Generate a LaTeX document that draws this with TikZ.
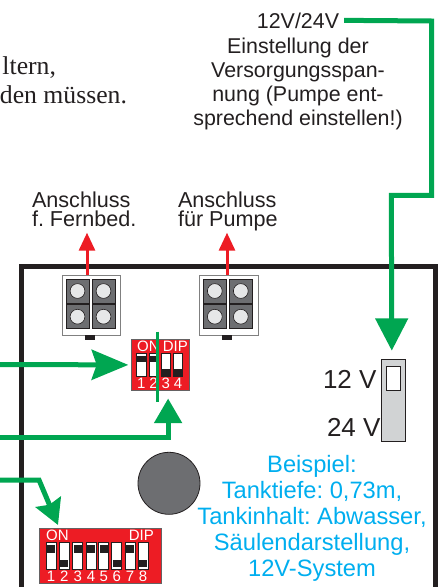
\documentclass[tikz,border=0pt]{standalone}
\usepackage{fontspec}
\setmainfont{Liberation Sans}
\newfontfamily\serifface{Liberation Serif}
\usetikzlibrary{arrows.meta,calc}
\frenchspacing
\definecolor{ink}{HTML}{231F20}
\definecolor{grn}{HTML}{00A651}
\definecolor{rd}{HTML}{ED1C24}
\definecolor{blu}{HTML}{00AEEF}
\definecolor{dgray}{HTML}{6D6E71}
\definecolor{lgray}{HTML}{D1D3D4}
\definecolor{cgray}{HTML}{E6E7E8}
\tikzset{
  txt/.style={inner sep=0pt,outer sep=0pt,text=ink},
  bigtxt/.style={txt,font=\fontsize{21.4}{24.3}\selectfont,align=center},
  anstxt/.style={txt,font=\fontsize{21.6}{19.5}\selectfont,align=left},
  volt/.style={txt,font=\fontsize{26}{28}\selectfont,anchor=base west},
  blutxt/.style={inner sep=0pt,text=blu,font=\fontsize{23.7}{25.8}\selectfont,align=center},
  sertxt/.style={txt,font=\serifface\fontsize{25.7}{28}\selectfont,anchor=base east},
  frameline/.style={draw=ink,line width=5pt},
  grnline/.style={draw=grn,line width=5pt,miter limit=10},
  thingrn/.style={draw=grn,line width=2.5pt},
  redarrow/.style={draw=rd,line width=3pt,-{Stealth[length=18pt,width=16pt,inset=0pt]}},
  conn/.style={draw=gray,fill=white,line width=1pt,minimum width=58.6pt,minimum height=60pt,inner sep=0pt},
  pinsq/.style={draw=ink,fill=dgray,line width=0.8pt},
  pinc/.style={draw=ink,fill=cgray,line width=0.6pt},
  tabk/.style={fill=ink},
  dipbox/.style={draw=ink!70,fill=rd,line width=0.8pt,inner sep=0pt},
  swbody/.style={draw=ink,fill=white,line width=0.8pt},
  knob/.style={fill=ink},
  diptxt/.style={inner sep=0pt,text=white,anchor=base,font=\fontsize{15}{15}\selectfont},
  jump/.style={draw=ink,fill=lgray,line width=1pt,inner sep=0pt,minimum width=24pt,minimum height=81.7pt},
  jumpw/.style={draw=ink,fill=white,line width=1pt},
  disc/.style={circle,draw=ink,fill=dgray,line width=0.8pt,minimum size=62pt,inner sep=0pt},
}
\newcommand{\connector}[3]{% name, left, top
  \node[conn,anchor=north west] (#1) at (#2,#3) {};
  \begin{scope}[shift={(#2,#3)}]
    \foreach \qx/\qy in {4.3/4,30.3/4,4.3/29.7,30.3/29.7}{
      \path[pinsq] (\qx,\qy) rectangle ++(23,24);
      \path[pinc] (\qx+11.5,\qy+12) circle (7.4);
    }
    \path[tabk] (23.3,60) rectangle ++(10,5);
  \end{scope}
}
\begin{document}
\begin{tikzpicture}[x=1pt,y=-1pt]
\useasboundingbox (0,0) rectangle (443,587);
\clip (0,0) rectangle (443,587);
% body frame
\path[frameline,line cap=butt] (21,590) -- (21,266) -- (435,266) -- (435,590);
% surrounding text
\node[sertxt] (tA) at (56,74) {ltern,};
\node[sertxt] (tB) at (127,103.5) {den müssen.};
\node[txt,font=\fontsize{21.4}{24.3}\selectfont,anchor=base] (lblV) at (298,28) {12V/24V};
\node[bigtxt,anchor=north] (lblVt) at (298,37.5) {Einstellung der\\Versorgungsspan-\\nung (Pumpe ent-\\sprechend einstellen!)};
\node[anstxt,anchor=north west] (lblA) at (32,191.5) {Anschluss\\f. Fernbed.};
\node[anstxt,anchor=north west] (lblB) at (178,191.5) {Anschluss\\für Pumpe};
% connectors
\connector{connA}{61.7}{275}
\connector{connB}{199}{275}
\coordinate (tipA) at (87,232.7);
\coordinate (tipB) at (227,232.7);
\path[redarrow] (tipA |- connA.north) -- (tipA);
\path[redarrow] (tipB |- connB.north) -- (tipB);
% four-way DIP
\node[dipbox,minimum width=58.6pt,minimum height=51pt,anchor=north west] (dipA) at (130.7,339) {};
\foreach \sx/\st/\num in {136.7/1/1,148.9/1/2,161.1/0/3,173.3/0/4}{
  \path[swbody] (\sx,353) rectangle ++(9.4,23.7);
  \ifnum\st=1 \path[knob] (\sx+0.6,355.6) rectangle ++(8.2,6.2);
  \else \path[knob] (\sx+0.6,369.4) rectangle ++(8.2,6.6);\fi
  \node[diptxt] at (\sx+4.7,388.3) {\num};
}
\node[diptxt,anchor=base west] (onA) at (137,351) {ON};
\node[diptxt,anchor=base east] (dipAt) at (188,351) {DIP};
% eight-way DIP
\node[dipbox,minimum width=121.7pt,minimum height=55.3pt,anchor=north west] (dipB) at (39,527.7) {};
\foreach \sx/\st/\num in {46/1/1,59.3/0/2,72.7/1/3,86/1/4,98.7/1/5,111.7/0/6,125/1/7,138/0/8}{
  \path[swbody] (\sx,542.7) rectangle ++(10,26.6);
  \ifnum\st=1 \path[knob] (\sx+1,545.3) rectangle ++(8,7.7);
  \else \path[knob] (\sx+1,560) rectangle ++(8,7.3);\fi
  \node[diptxt] at (\sx+5,581.3) {\num};
}
\node[diptxt,anchor=base west] (onB) at (46,540) {ON};
\node[diptxt,anchor=base east] (dipBt) at (154,540) {DIP};
% disc
\node[disc] (knobDisc) at (169,483.3) {};
% jumper
\node[jump,anchor=north west] (jumper) at (380.7,359.3) {};
\path[jumpw] (386,366) rectangle (400,390);
\node[volt] (v12) at (323,388.3) {12 V};
\node[volt] (v24) at (327,436.7) {24 V};
% example text
\node[blutxt,anchor=north] (example) at (312,455.5) {Beispiel:\\Tanktiefe: 0,73m,\\Tankinhalt: Abwasser,\\Säulendarstellung,\\12V-System};
% green connectors
\coordinate (gA) at (0,364.5);
\coordinate (gB) at (0,437.3);
\coordinate (gC) at (0,480);
\coordinate (thinT) at (157.7,331.7);
\coordinate (thinB) at (157.7,402);
\path[thingrn] (thinT) -- (thinB);
\path[grnline,-{Stealth[length=36.6pt,width=30pt,inset=5pt]}] (gA) -- ($(dipA.west)+(-2.4,0)$);
\path[grnline,-{Stealth[length=24.6pt,width=27pt,inset=0pt]}] (gB) -| ($(dipA.south)+(7.7,7.7)$);
\path[grnline,-{Stealth[length=25pt,width=27pt,inset=3pt]}] (gC) -- (39,480) -- ($(dipB.north west)+(19,-2.7)$);
\path[grnline,-{Stealth[length=32.4pt,width=32pt,inset=0pt]}] ($(lblV.east)+(5,0)$ |- 0,21) -- (431.7,21) -- (431.7,195.3) -- (391.3,195.3) -- ($(jumper.north)+(-1.4,-8.6)$);
\end{tikzpicture}
\end{document}
